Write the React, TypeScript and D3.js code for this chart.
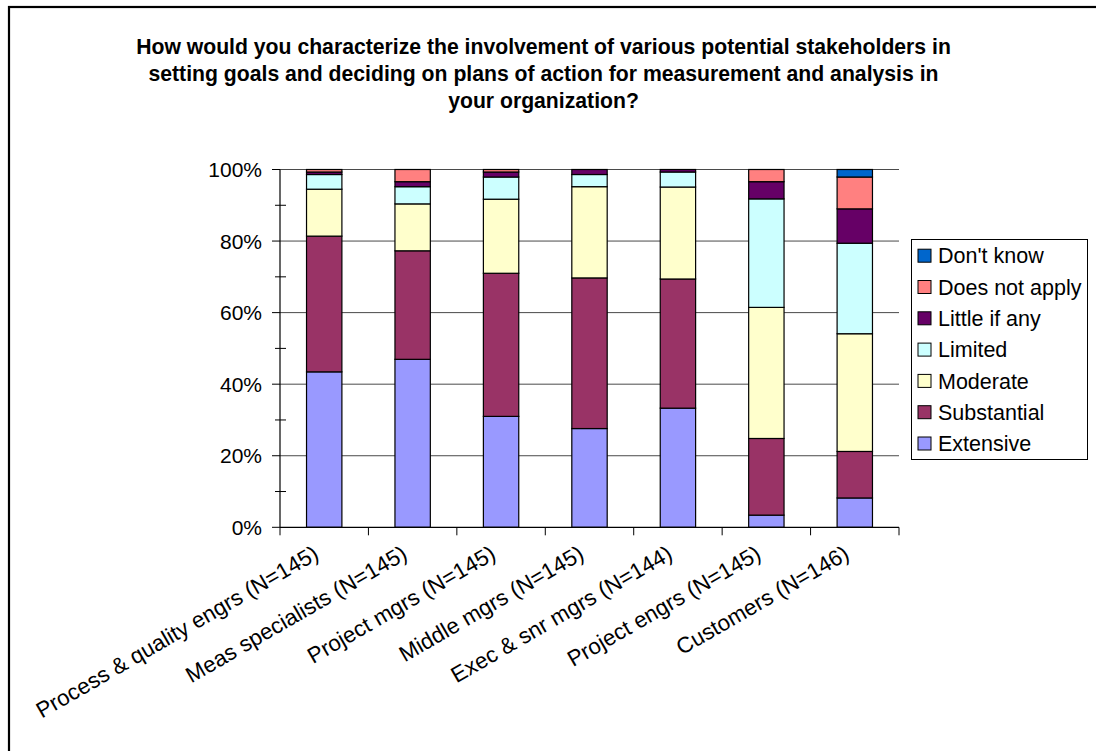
import React from "react";
import * as d3 from "d3";

const categories = [
  "Process & quality engrs (N=145)",
  "Meas specialists (N=145)",
  "Project mgrs (N=145)",
  "Middle mgrs (N=145)",
  "Exec & snr mgrs (N=144)",
  "Project engrs (N=145)",
  "Customers (N=146)",
];

// Percent of respondents per involvement level, one value per category
const extensive = [43.4, 46.9, 31.0, 27.6, 33.3, 3.4, 8.2];
const substantial = [37.9, 30.3, 40.0, 42.1, 36.1, 21.4, 13.0];
const moderate = [13.1, 13.1, 20.7, 25.5, 25.7, 36.6, 32.9];
const limited = [4.1, 4.8, 6.2, 3.4, 4.2, 30.3, 25.3];
const littleIfAny = [0.7, 1.4, 1.4, 1.4, 0.7, 4.8, 9.6];
const doesNotApply = [0.7, 3.4, 0.7, 0, 0, 3.4, 8.9];
const dontKnow = [0, 0, 0, 0, 0, 0, 2.1];

const seriesNames = [
  "Extensive",
  "Substantial",
  "Moderate",
  "Limited",
  "Little if any",
  "Does not apply",
  "Don't know",
];
const seriesValues = [extensive, substantial, moderate, limited, littleIfAny, doesNotApply, dontKnow];
const seriesColors = ["#9999FF", "#993366", "#FFFFCC", "#CCFFFF", "#660066", "#FF8080", "#0066CC"];

const yTicks = [0, 0.2, 0.4, 0.6, 0.8, 1];
const yMinorTicks = [0.1, 0.3, 0.5, 0.7, 0.9];

const titleLines = [
  "How would you characterize the involvement of various potential stakeholders in",
  "setting goals and deciding on plans of action for measurement and analysis in",
  "your organization?",
];

const FONT = "'Liberation Sans', Arial, Helvetica, sans-serif";

export default function App() {
  const W = 1096;
  const H = 751;
  const left = 280;
  const right = 899;
  const top = 169.5;
  const bottom = 527.3;

  const rows = categories.map((c, i) => {
    const r: Record<string, number | string> = { category: c };
    seriesNames.forEach((s, k) => (r[s] = seriesValues[k][i]));
    return r;
  });

  const stack = d3
    .stack<Record<string, number | string>>()
    .keys(seriesNames)
    .value((d, key) => d[key] as number)
    .offset(d3.stackOffsetExpand);
  const stacked = stack(rows);

  const x = d3.scaleBand<string>().domain(categories).range([left, right]).paddingInner(0.6).paddingOuter(0.3);
  const y = d3.scaleLinear().domain([0, 1]).range([bottom, top]);
  const step = x.step();
  const boundaries = d3.range(categories.length + 1).map((i) => left + i * step);

  const legendOrder = [...seriesNames].reverse();
  const legendColors = [...seriesColors].reverse();

  return (
    <svg
      width={W}
      height={H}
      style={{ position: "absolute", left: 0, top: 0, background: "#fff" }}
      fontFamily={FONT}
    >
      <rect x={0} y={0} width={W} height={H} fill="#fff" />
      {/* outer frame */}
      <rect x={9} y={7} width={1300} height={1000} fill="none" stroke="#000" strokeWidth={2.2} />

      {/* title */}
      {titleLines.map((t, i) => (
        <text
          key={i}
          x={543.5}
          y={54 + i * 27}
          textAnchor="middle"
          fontWeight="bold"
          fontSize={21.2}
          fill="#000"
        >
          {t}
        </text>
      ))}

      {/* gridlines */}
      {yTicks.slice(1).map((t) => (
        <line key={t} x1={left} x2={right} y1={y(t)} y2={y(t)} stroke="#4a4a4a" strokeWidth={1} />
      ))}

      {/* bars */}
      {stacked.map((layer, k) => (
        <g key={layer.key}>
          {layer.map((d, i) => {
            const h = y(d[0]) - y(d[1]);
            if (h <= 0.01) return null;
            return (
              <rect
                key={i}
                x={x(categories[i])}
                y={y(d[1])}
                width={x.bandwidth()}
                height={h}
                fill={seriesColors[k]}
                stroke="#000"
                strokeWidth={1.2}
              />
            );
          })}
        </g>
      ))}

      {/* y axis */}
      <line x1={left} x2={left} y1={top} y2={bottom} stroke="#000" strokeWidth={1.2} />
      {yTicks.map((t) => (
        <g key={t}>
          <line x1={left - 8} x2={left} y1={y(t)} y2={y(t)} stroke="#000" strokeWidth={1} />
          <text x={262} y={y(t)} dy="0.36em" textAnchor="end" fontSize={21} fill="#000">
            {d3.format(".0%")(t)}
          </text>
        </g>
      ))}
      {yMinorTicks.map((t) => (
        <line key={t} x1={left - 5} x2={left + 6} y1={y(t)} y2={y(t)} stroke="#000" strokeWidth={1} />
      ))}

      {/* x axis */}
      <line x1={left} x2={right} y1={bottom} y2={bottom} stroke="#000" strokeWidth={1.2} />
      {boundaries.map((b, i) => (
        <line key={i} x1={b} x2={b} y1={bottom} y2={bottom + 8} stroke="#000" strokeWidth={1} />
      ))}
      {categories.map((c) => {
        const cx = (x(c) as number) + x.bandwidth() / 2 - 4;
        const cy = 558;
        return (
          <text
            key={c}
            x={cx}
            y={cy}
            textAnchor="end"
            fontSize={22.3}
            fill="#000"
            transform={`rotate(-30, ${cx}, ${cy})`}
          >
            {c}
          </text>
        );
      })}

      {/* legend */}
      <rect x={911.5} y={239.5} width={176} height={220} fill="#fff" stroke="#000" strokeWidth={1} />
      {legendOrder.map((s, i) => {
        const cy = 255.7 + i * 31.3;
        return (
          <g key={s}>
            <rect x={918} y={cy - 6.5} width={13} height={13} fill={legendColors[i]} stroke="#000" strokeWidth={1} />
            <text x={938} y={cy} dy="0.36em" fontSize={21.5} fill="#000">
              {s}
            </text>
          </g>
        );
      })}
    </svg>
  );
}
